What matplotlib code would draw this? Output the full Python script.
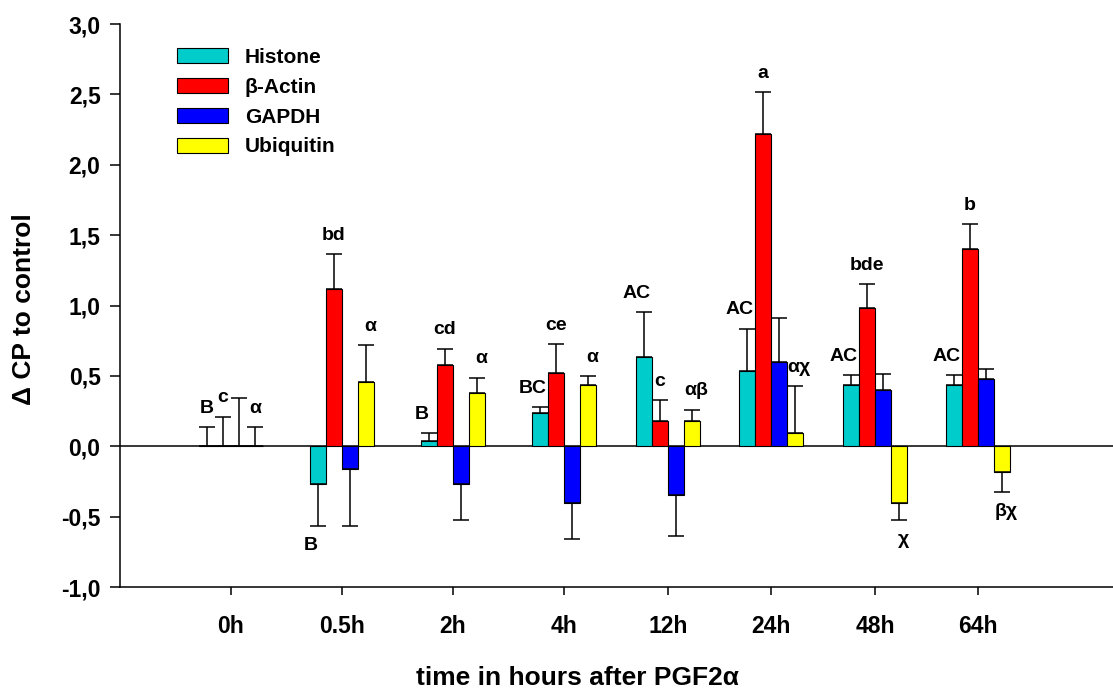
import matplotlib
matplotlib.use("Agg")
import matplotlib.pyplot as plt
import numpy as np

plt.rcParams['font.family'] = ['Liberation Sans', 'DejaVu Sans']
plt.rcParams['font.weight'] = 'bold'

times = ['0h', '0.5h', '2h', '4h', '12h', '24h', '48h', '64h']
genes = ['Histone', 'β-Actin', 'GAPDH', 'Ubiquitin']
colors = ['#00CCCC', '#FF0000', '#0000FF', '#FFFF00']

# mean delta CP per gene and time point
histone = [0.0, -0.265, 0.04, 0.239, 0.637, 0.538, 0.436, 0.436]
actin = [0.0, 1.116, 0.578, 0.517, 0.178, 2.217, 0.979, 1.398]
gapdh = [0.0, -0.161, -0.265, -0.403, -0.343, 0.597, 0.398, 0.476]
ubiquitin = [0.0, 0.457, 0.379, 0.436, 0.178, 0.097, -0.403, -0.18]

# one sided error (drawn away from zero)
histone_err = [0.137, 0.304, 0.055, 0.038, 0.315, 0.298, 0.071, 0.071]
actin_err = [0.21, 0.249, 0.116, 0.208, 0.149, 0.301, 0.175, 0.178]
gapdh_err = [0.34, 0.405, 0.261, 0.258, 0.294, 0.315, 0.116, 0.074]
ubiquitin_err = [0.137, 0.259, 0.109, 0.061, 0.083, 0.332, 0.123, 0.147]

# significance letters
histone_lab = ['B', 'B', 'B', 'BC', 'AC', 'AC', 'AC', 'AC']
actin_lab = ['c', 'bd', 'cd', 'ce', 'c', 'a', 'bde', 'b']
gapdh_lab = ['', '', '', '', '', '', '', '']
ubiquitin_lab = ['α', 'α', 'α', 'α', 'αβ', 'αχ', 'χ', 'βχ']

values = [histone, actin, gapdh, ubiquitin]
errors = [histone_err, actin_err, gapdh_err, ubiquitin_err]
labels = [histone_lab, actin_lab, gapdh_lab, ubiquitin_lab]
label_dx = [-5, 0, 0, 3]  # small horizontal nudges in points

# group centres (the original spacing is not quite even)
group_x = np.array([0, 1, 2, 3, 3.937, 4.865, 5.802, 6.730])
width = 0.145

fig = plt.figure(figsize=(11.13, 6.88), dpi=100)
ax = fig.add_axes([0.1078, 0.1468, 0.8922, 0.8183])

ax.axhline(0, color='black', lw=1.1, zorder=1)

handles = []
for k in range(4):
    xs = group_x + (k - 1.5) * width
    vals = np.array(values[k])
    errs = np.array(errors[k])
    b = ax.bar(xs, vals, width, color=colors[k], edgecolor='black', linewidth=0.8,
               label=genes[k], zorder=2)
    handles.append(b)
    up = np.where(vals >= 0, errs, 0)
    down = np.where(vals >= 0, 0, errs)
    # capsize is half the cap length in matplotlib
    ax.errorbar(xs, vals, yerr=[down, up], fmt='none', ecolor='black',
                elinewidth=1.1, capsize=5.8, capthick=1.1, zorder=3)
    for i in range(len(vals)):
        if not labels[k][i]:
            continue
        sign = 1 if vals[i] >= 0 else -1
        tip = vals[i] + sign * errs[i]
        dx = label_dx[k] if i > 0 else 0
        ax.annotate(labels[k][i], (xs[i], tip), xytext=(dx, sign * 13.5),
                    textcoords='offset points', ha='center', va='center',
                    fontsize=14, fontweight='bold')

ax.set_ylim(-1.0, 3.0)
ax.set_xlim(-1.0, 7.946)
ax.set_yticks(np.arange(-1.0, 3.01, 0.5))
ax.set_yticklabels([f'{v:.1f}'.replace('.', ',') for v in np.arange(-1.0, 3.01, 0.5)])
ax.set_xticks(group_x)
ax.set_xticklabels(times)

ax.spines['top'].set_visible(False)
ax.spines['right'].set_visible(False)
ax.spines['left'].set_linewidth(1.1)
ax.spines['bottom'].set_linewidth(1.1)
ax.tick_params(axis='y', length=7, width=1.1, pad=7, labelsize=16.5)
ax.tick_params(axis='x', length=6, width=1.1, pad=14, labelsize=16.5)

fig.text(24 / 1113, 1 - 309 / 688, 'Δ CP to control', rotation=90,
         ha='center', va='center', fontsize=19, fontweight='bold')
fig.text(577 / 1113, 1 - 678 / 688, 'time in hours after PGF2α',
         ha='center', va='center', fontsize=19, fontweight='bold')

ax.legend(handles=handles, loc='upper left', bbox_to_anchor=(177 / 1113, 1 - 48 / 688),
          bbox_transform=fig.transFigure, frameon=False, fontsize=15,
          handlelength=2.45, handleheight=0.75, handletextpad=0.8,
          labelspacing=0.52, borderpad=0, borderaxespad=0)

plt.savefig('out.png', dpi=100)
plt.close(fig)
